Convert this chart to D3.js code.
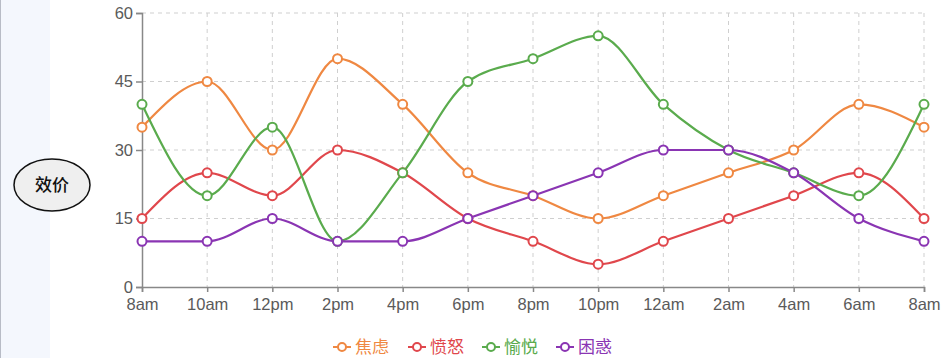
<!DOCTYPE html>
<head>
<meta charset="utf-8">
<style>
body { margin: 0; background: #fff; }
text { font-family: "Liberation Sans", Arial, sans-serif; }
.axis text { font-size: 16.5px; fill: #5a5a5a; }
.axis path, .axis line { stroke: #888; stroke-width: 1.5px; }
.grid line { stroke: #cfcfcf; stroke-dasharray: 4,4; stroke-width: 1px; }
</style>
</head>
<body>
<script src="https://cdn.jsdelivr.net/npm/d3@7"></script>
<script>

var times = ["8am","10am","12pm","2pm","4pm","6pm","8pm","10pm","12am","2am","4am","6am","8am"];
var seriesNames = ["焦虑", "愤怒", "愉悦", "困惑"];
var anxiety = [35,45,30,50,40,25,20,15,20,25,30,40,35];
var anger   = [15,25,20,30,25,15,10,5,10,15,20,25,15];
var joy     = [40,20,35,10,25,45,50,55,40,30,25,20,40];
var confusion = [10,10,15,10,10,15,20,25,30,30,25,15,10];
var yTicks = [0,15,30,45,60];
var colors = ["#ef8842", "#e0474c", "#5aab4d", "#8a35b3"];

var series = [anxiety, anger, joy, confusion];

var width = 943, height = 358;
var svg = d3.select("body").append("svg")
    .attr("width", width)
    .attr("height", height);

// left side panel
svg.append("rect").attr("x", 0).attr("y", 0).attr("width", 50).attr("height", height)
    .style("fill", "#f4f7fd");
svg.append("line").attr("x1", 0.5).attr("x2", 0.5).attr("y1", 0).attr("y2", height)
    .style("stroke", "#b8bcc6");

svg.append("ellipse").attr("cx", 52).attr("cy", 185).attr("rx", 38).attr("ry", 26)
    .style("fill", "#efefef").style("stroke", "#111").style("stroke-width", 1.5);
svg.append("text").attr("x", 52).attr("y", 191).attr("text-anchor", "middle")
    .style("font-family", "'Noto Sans CJK SC', sans-serif")
    .style("font-size", "17px").style("font-weight", "500").style("fill", "#111")
    .text("效价");

var x = d3.scalePoint().domain(d3.range(times.length)).range([142, 924]);
var y = d3.scaleLinear().domain([0, 60]).range([287, 13]);

// grid
var grid = svg.append("g").attr("class", "grid");
grid.selectAll(".h").data(yTicks.slice(1)).enter().append("line")
    .attr("x1", 142).attr("x2", 924)
    .attr("y1", function(d) { return y(d); })
    .attr("y2", function(d) { return y(d); });
grid.selectAll(".v").data(d3.range(1, times.length)).enter().append("line")
    .attr("y1", 13).attr("y2", 287)
    .attr("x1", function(d) { return x(d); })
    .attr("x2", function(d) { return x(d); });

// axes
svg.append("g").attr("class", "axis")
    .attr("transform", "translate(0,287)")
    .call(d3.axisBottom(x).tickFormat(function(i) { return times[i]; }).tickSizeOuter(0).tickSize(5).tickPadding(6));
svg.append("g").attr("class", "axis")
    .attr("transform", "translate(142,0)")
    .call(d3.axisLeft(y).tickValues(yTicks).tickSizeOuter(6).tickSize(6).tickPadding(3));

// lines
var line = d3.line()
    .x(function(d, i) { return x(i); })
    .y(function(d) { return y(d); })
    .curve(d3.curveMonotoneX);

series.forEach(function(s, k) {
  svg.append("path").datum(s)
      .attr("d", line)
      .style("fill", "none")
      .style("stroke", colors[k])
      .style("stroke-width", 2.2);
});
series.forEach(function(s, k) {
  svg.append("g").selectAll("circle").data(s).enter().append("circle")
      .attr("cx", function(d, i) { return x(i); })
      .attr("cy", function(d) { return y(d); })
      .attr("r", 4.5)
      .style("fill", "#fff")
      .style("stroke", colors[k])
      .style("stroke-width", 2);
});

// legend
var legend = svg.append("g").attr("transform", "translate(333,347)");
var offsets = [0, 75, 149, 223];
seriesNames.forEach(function(name, k) {
  var g = legend.append("g").attr("transform", "translate(" + offsets[k] + ",0)");
  g.append("line").attr("x1", 0).attr("x2", 18).attr("y1", 0).attr("y2", 0)
      .style("stroke", colors[k]).style("stroke-width", 2);
  g.append("circle").attr("cx", 9).attr("cy", 0).attr("r", 4)
      .style("fill", "#fff").style("stroke", colors[k]).style("stroke-width", 2);
  g.append("text").attr("x", 22).attr("y", 6)
      .style("font-family", "'Noto Sans CJK SC', sans-serif")
      .style("font-size", "17px").style("fill", colors[k])
      .text(name);
});

</script>
</body>
</html>
